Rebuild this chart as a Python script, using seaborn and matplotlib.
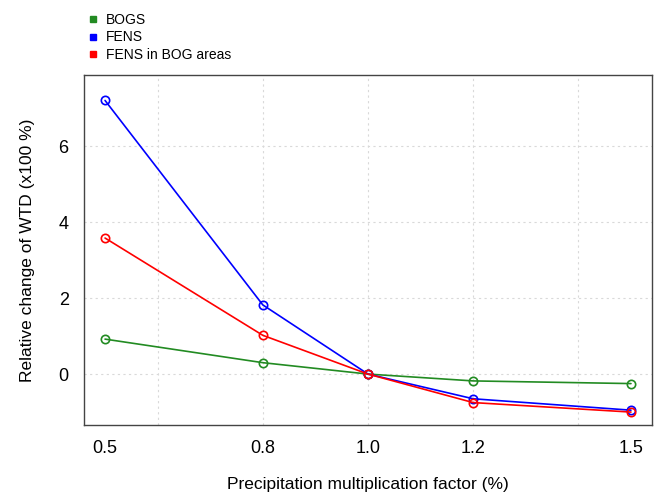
import pandas as pd
import matplotlib.pyplot as plt
import seaborn as sns
from matplotlib.lines import Line2D

# data
factor = [0.5, 0.8, 1.0, 1.2, 1.5]
bogs = [0.92, 0.30, 0.0, -0.18, -0.25]
fens = [7.20, 1.82, 0.0, -0.65, -0.95]
fens_bog = [3.58, 1.02, 0.0, -0.75, -1.00]

series = ['BOGS', 'FENS', 'FENS in BOG areas']
colors = ['forestgreen', 'blue', 'red']

df = pd.concat([
    pd.DataFrame({'factor': factor, 'wtd': vals, 'group': name})
    for name, vals in zip(series, [bogs, fens, fens_bog])
])

sns.set_style('white')
plt.rcParams['font.family'] = ['Liberation Sans', 'DejaVu Sans']
plt.rcParams['text.color'] = 'black'
plt.rcParams['axes.labelcolor'] = 'black'
plt.rcParams['xtick.color'] = 'black'
plt.rcParams['ytick.color'] = 'black'

fig = plt.figure(figsize=(6.54, 4.93), dpi=100)
ax = fig.add_axes([84 / 654, 1 - 425 / 493, (652 - 84) / 654, (425 - 75) / 493])

for name, col in zip(series, colors):
    sub = df[df['group'] == name]
    sns.lineplot(data=sub, x='factor', y='wtd', color=col, marker='o',
                 markersize=6, markerfacecolor='none', markeredgecolor=col,
                 markeredgewidth=1.2, linewidth=1.2, ax=ax, legend=False)

ax.set_xlim(0.46, 1.54)
ax.set_ylim(-1.34, 7.87)
ax.set_xticks(factor)
ax.set_xticklabels(['0.5', '0.8', '1.0', '1.2', '1.5'])
ax.set_yticks([0, 2, 4, 6])

# grid at pretty positions like base R grid()
for gx in [0.6, 0.8, 1.0, 1.2, 1.4]:
    ax.axvline(gx, color='#d9d9d9', linestyle=(0, (2, 3)), linewidth=0.8, zorder=0)
for gy in [0, 2, 4, 6]:
    ax.axhline(gy, color='#d9d9d9', linestyle=(0, (2, 3)), linewidth=0.8, zorder=0)

for sp in ax.spines.values():
    sp.set_color('#444444')
    sp.set_linewidth(1.0)
ax.tick_params(axis='both', direction='out', length=7, width=1, color='#666666',
               labelcolor='black', labelsize=13, pad=4)
ax.set_xlabel('Precipitation multiplication factor (%)', fontsize=12.5, labelpad=14)
ax.set_ylabel('Relative change of WTD (x100 %)', fontsize=12.5, labelpad=17)

handles = [Line2D([], [], color=c, marker='s', linestyle='none', markersize=5)
           for c in colors]
fig.legend(handles, series, loc='upper left', bbox_to_anchor=(78 / 654, 1 - 6 / 493),
           frameon=False, fontsize=10, handletextpad=0.3, labelspacing=0.25,
           borderpad=0, handlelength=1.2)

fig.savefig('out.png', dpi=100)
